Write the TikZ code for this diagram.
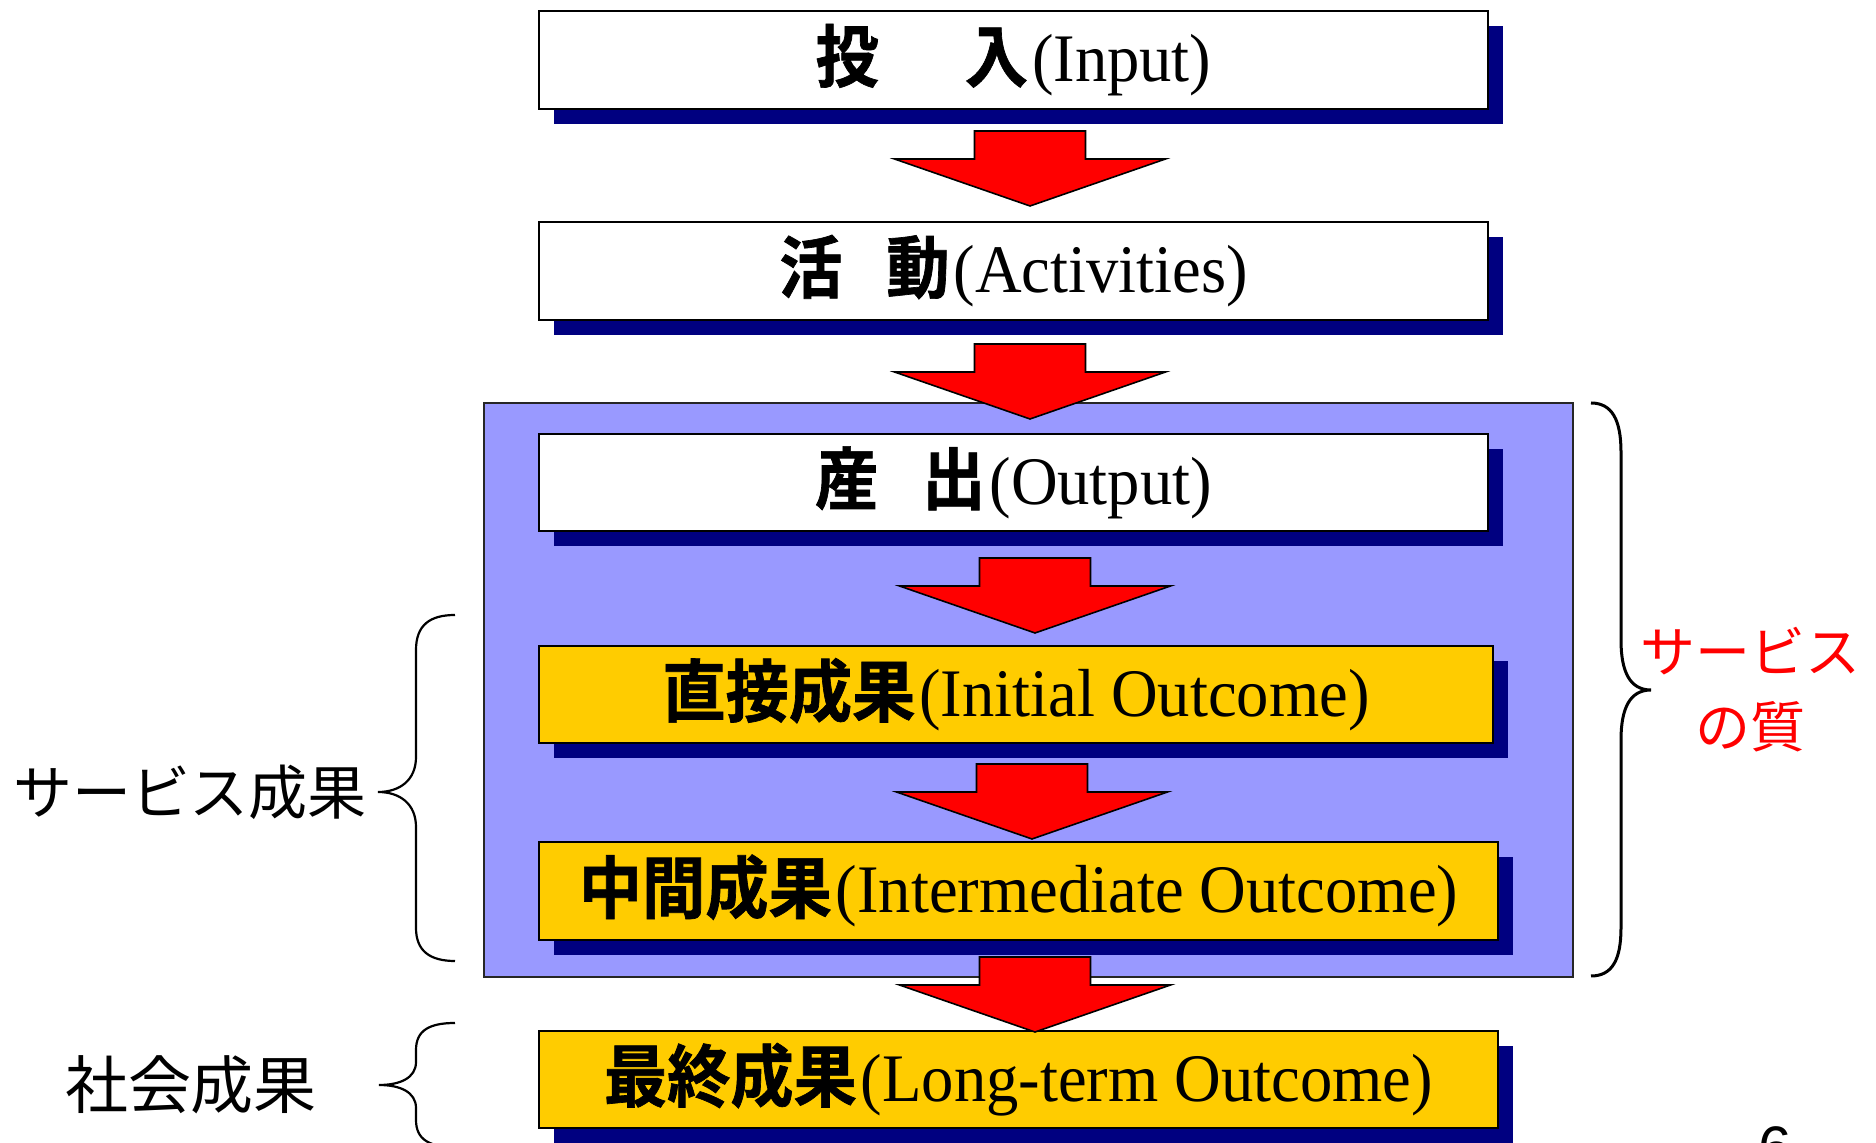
\documentclass[tikz,border=0pt]{standalone}
\usepackage{fontspec}
\usetikzlibrary{shadows,calc}
\newfontfamily\en[FakeStretch=0.95]{Liberation Serif}
\newfontfamily\jp{Noto Sans CJK JP}
\newfontfamily\jpb[FakeStretch=0.93,FakeBold=1]{Noto Sans CJK JP Bold}
\newfontfamily\pg{Liberation Sans}
\definecolor{navy}{RGB}{0,0,128}
\definecolor{gold}{RGB}{255,204,0}
\definecolor{lilac}{RGB}{153,153,255}
\tikzset{
  stagebox/.style={draw=black, line width=1pt, anchor=north west, inner sep=0pt,
    general shadow={fill=navy, shadow xshift=7.5pt, shadow yshift=-7.5pt},
    font=\fontsize{34}{40}\selectfont},
  whitebox/.style={stagebox, fill=white},
  goldbox/.style={stagebox, fill=gold},
  lab/.style={font=\jp\fontsize{29.5}{36}\selectfont, inner sep=0pt},
  bracestroke/.style={draw=black, line width=1.1pt},
  pics/downarrow/.style={code={
    \draw[fill=red, draw=black, line width=0.8pt, line join=miter]
      (-55.5,0) -- (55.5,0) -- (55.5,28) -- (135.5,28) -- (0,75)
      -- (-135.5,28) -- (-55.5,28) -- cycle;}}
}
\begin{document}
\begin{tikzpicture}[x=0.5pt,y=-0.5pt]
\useasboundingbox (0,0) rectangle (1876,1143);
\fill[white] (0,0) rectangle (1876,1143);

% grouping background
\node[draw=black!85, line width=1pt, fill=lilac, anchor=north west,
      minimum width=544.5pt, minimum height=287pt, inner sep=0pt] (grp) at (483,402) {};

% stage boxes
\node[whitebox, minimum width=474.5pt, minimum height=49pt] (in) at (538,10)
  {{\jpb 投}\hspace{43pt}{\jpb 入}\hspace{2pt}{\en (Input)}};
\node[whitebox, minimum width=474.5pt, minimum height=49pt] (act) at (538,221)
  {{\jpb 活}\hspace{22pt}{\jpb 動}\hspace{2pt}{\en (Activities)}};
\node[whitebox, minimum width=474.5pt, minimum height=48.5pt] (out) at (538,433)
  {{\jpb 産}\hspace{22pt}{\jpb 出}\hspace{2pt}{\en (Output)}};
\node[goldbox, minimum width=477pt, minimum height=48.5pt] (init) at (538,645)
  {{\jpb 直接成果}\hspace{2pt}{\en (Initial Outcome)}};
\node[goldbox, minimum width=479.5pt, minimum height=49pt] (inter) at (538,841)
  {{\jpb 中間成果}\hspace{2pt}{\en (Intermediate Outcome)}};
\node[goldbox, minimum width=479.5pt, minimum height=48.5pt] (long) at (538,1030)
  {{\jpb 最終成果}\hspace{2pt}{\en (Long-term Outcome)}};

% block arrows between stages
\pic at ($(in.south)+(16.5,21)$) {downarrow};
\pic at ($(act.south)+(16.5,23)$) {downarrow};
\pic at ($(out.south)+(21.5,26)$) {downarrow};
\pic at ($(init.south)+(16,20)$) {downarrow};
\pic at ($(inter.south)+(16.5,16)$) {downarrow};

% left labels and braces
\node[lab] (svc) at (190,792) {サービス成果};
\node[lab, font=\jp\fontsize{31.5}{36}\selectfont] (soc) at (191,1085) {社会成果};
\draw[bracestroke] (455,615) .. controls (430,615) and (416,625) .. (416,650)
  -- (416,757) .. controls (416,780) and (400,792) .. (378,792)
  .. controls (400,792) and (416,804) .. (416,827)
  -- (416,928) .. controls (416,951) and (430,961) .. (455,961);
\draw[bracestroke] (455,1023) .. controls (430,1023) and (416,1030) .. (416,1050)
  -- (416,1062) .. controls (416,1078) and (400,1085) .. (379,1085)
  .. controls (400,1085) and (416,1092) .. (416,1108)
  -- (416,1120) .. controls (416,1140) and (430,1147) .. (455,1147);

% right brace and label
\draw[draw=black, line width=1.5pt] (1591,403) .. controls (1612,403) and (1621,420) .. (1621,452)
  -- (1621,640) .. controls (1621,672) and (1630,690) .. (1651,690)
  .. controls (1630,690) and (1621,708) .. (1621,740)
  -- (1621,928) .. controls (1621,960) and (1612,976) .. (1591,976);
\node[text=red, font=\jp\fontsize{27.5}{37.5}\selectfont, align=center, inner sep=0pt]
  (qual) at (1750,690) {サービス\\の質};

% page number (cut off at the bottom, as in the reference)
\node[font=\pg\fontsize{30}{34}\selectfont, anchor=base, inner sep=0pt] (pg) at (1775,1169) {6};
\end{tikzpicture}
\end{document}
